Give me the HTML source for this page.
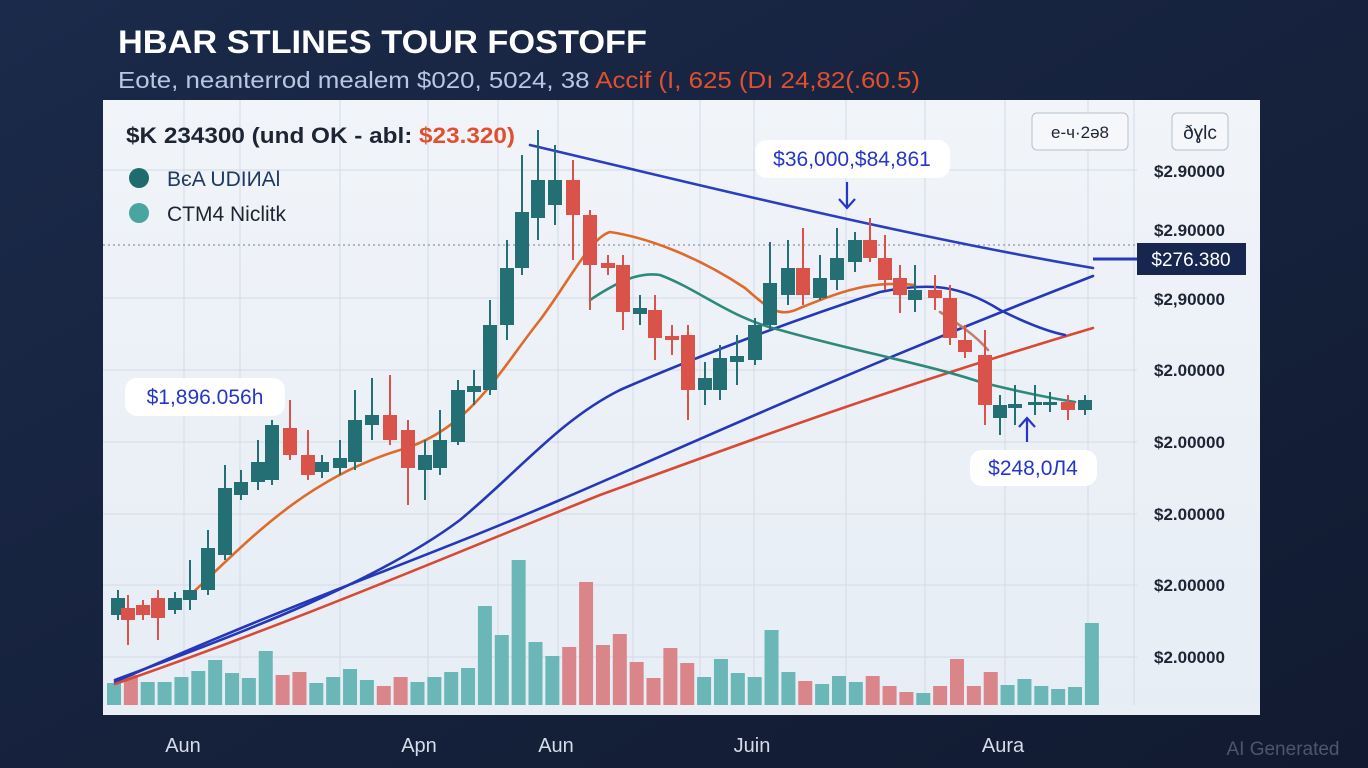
<!DOCTYPE html>
<html><head><meta charset="utf-8"><style>
html,body{margin:0;padding:0;width:1368px;height:768px;overflow:hidden;background:#16223d;font-family:"Liberation Sans",sans-serif}
</style></head><body>
<svg id="s" width="1368" height="768" viewBox="0 0 1368 768" xmlns="http://www.w3.org/2000/svg" style="position:absolute;left:0;top:0">
<defs>
<linearGradient id="bg" x1="0" y1="0" x2="1" y2="1"><stop offset="0" stop-color="#1b2a4a"/><stop offset="1" stop-color="#111a30"/></linearGradient>
<linearGradient id="pn" x1="0" y1="0" x2="0" y2="1"><stop offset="0" stop-color="#f1f4f9"/><stop offset="1" stop-color="#e6edf5"/></linearGradient>
</defs>
<rect width="1368" height="768" fill="url(#bg)"/>
<rect x="103" y="100" width="1157" height="615" fill="url(#pn)"/>
<rect x="103" y="705" width="1157" height="10" fill="#e9eef4"/>
<g id="grid" stroke="#d3dbe6" stroke-width="1"></g>
<line x1="103" y1="245" x2="1137" y2="245" stroke="#8a94a6" stroke-width="1.2" stroke-dasharray="2,3"/>
<g id="vol"></g>
<g id="lines" fill="none" stroke-width="2.6" stroke-linecap="round">
<path d="M530,145 C700,185 900,235 1093,268" stroke="#2a3fc0"/>
<path d="M115,682 C300,600 420,560 560,500 C700,440 850,370 1093,276" stroke="#2438b8"/>
<path d="M115,684 C300,620 450,555 600,495 C750,440 900,385 1093,328" stroke="#d94a35"/>
<path d="M115,680 C250,630 380,580 460,520 C520,470 560,420 620,390 C700,355 800,318 880,292 C930,282 960,285 1000,310 C1030,325 1050,332 1065,335" stroke="#2438b8"/>
<path d="M190,595 C240,550 300,480 400,450 C470,430 500,370 540,320 C570,280 590,238 610,232 C650,238 700,258 745,288 C770,310 780,318 800,308 C840,292 870,280 915,285" stroke="#e06a2a"/>
<path d="M590,300 C620,280 640,272 660,275 C700,290 730,318 780,330 C850,350 930,365 980,382 C1020,392 1050,398 1075,402" stroke="#2d8a7a"/>
<path d="M940,312 C960,325 975,335 988,350" stroke="#c08070"/>
</g>
<g id="candles"></g>
<line x1="1093" y1="259" x2="1137" y2="259" stroke="#2438b8" stroke-width="3"/>
<rect x="1137" y="243" width="109" height="32" fill="#17264e"/>
<text x="1191" y="266" font-size="19" fill="#fff" text-anchor="middle">$276.380</text>
<g font-size="17" fill="#1d2433" text-anchor="start" font-weight="bold">
<text x="1154" y="177">$2.90000</text><text x="1154" y="236">$2.90000</text><text x="1154" y="305">$2,90000</text>
<text x="1154" y="376">$2.00000</text><text x="1154" y="448">$2.00000</text><text x="1154" y="520">$2.00000</text>
<text x="1154" y="591">$2.00000</text><text x="1154" y="663">$2.00000</text>
</g>
<rect x="1032" y="113" width="96" height="37" rx="5" fill="#f5f7fb" stroke="#b8c0cc"/>
<text x="1080" y="138" font-size="17" fill="#1d2433" text-anchor="middle">е-ч·2ә8</text>
<rect x="1172" y="113" width="56" height="37" rx="5" fill="#f5f7fb" stroke="#b8c0cc"/>
<text x="1200" y="139" font-size="19" fill="#1d2433" text-anchor="middle">ðɣlc</text>
<text x="126" y="143" font-size="22" font-weight="bold" fill="#1d2433" textLength="389" lengthAdjust="spacingAndGlyphs">$K 234300 (und OK - abl: <tspan fill="#e0502e">$23.320)</tspan></text>
<circle cx="139" cy="178" r="10" fill="#1f6b6e"/><text x="167" y="186" font-size="21" fill="#1f3a60">BєA UDIИAl</text>
<circle cx="139" cy="213" r="10" fill="#4aa5a0"/><text x="167" y="221" font-size="21" fill="#1d2433">CTM4 Niclitk</text>
<rect x="755" y="140" width="195" height="38" rx="12" fill="#fff"/>
<text x="852" y="166" font-size="21" fill="#2536c8" text-anchor="middle">$36,000,$84,861</text>
<path d="M847,182 V208 M839,199 L847,208 L855,199" stroke="#2536c8" stroke-width="2.2" fill="none"/>
<rect x="125" y="378" width="160" height="38" rx="12" fill="#fff"/>
<text x="205" y="404" font-size="21" fill="#2536c8" text-anchor="middle">$1,896.056h</text>
<rect x="970" y="450" width="127" height="36" rx="12" fill="#fff"/>
<text x="1033" y="475" font-size="21" fill="#2536c8" text-anchor="middle">$248,0Л4</text>
<path d="M1027,442 V418 M1019,427 L1027,418 L1035,427" stroke="#2536c8" stroke-width="2.2" fill="none"/>
<text x="118" y="53" font-size="32" font-weight="bold" fill="#ffffff" textLength="529" lengthAdjust="spacingAndGlyphs">HBAR STLINES TOUR FOSTOFF</text>
<text x="118" y="88" font-size="23" fill="#b9c8e0" textLength="802" lengthAdjust="spacingAndGlyphs">Eote, neanterrod mealem $020, 5024, 38 <tspan fill="#e0502e">Accif (I, 625 (Dı 24,82(.60.5)</tspan></text>
<g font-size="20" fill="#d5dcea" text-anchor="middle">
<text x="183" y="752">Aun</text><text x="419" y="752">Apn</text><text x="556" y="752">Aun</text><text x="752" y="752">Juin</text><text x="1003" y="752">Aura</text>
</g>
<text x="1283" y="755" font-size="19" fill="#4a5672" text-anchor="middle">AI Generated</text>
</svg>
<script>
var NS="http://www.w3.org/2000/svg";
function el(p,t,a){var e=document.createElementNS(NS,t);for(var k in a)e.setAttribute(k,a[k]);document.getElementById(p).appendChild(e);}
[184,240,340,428,498,558,633,700,754,846,925,1005,1088,1134].forEach(function(x){el("grid","line",{x1:x,y1:100,x2:x,y2:705});});
[170,298,370,442,514,585,657].forEach(function(y){el("grid","line",{x1:103,y1:y,x2:1137,y2:y});});
var v=[[683,0],[675,1],[682,0],[682,0],[677,0],[671,0],[660,0],[673,0],[678,0],[651,0],[675,1],[672,1],[683,0],[677,0],[669,0],[680,0],[686,1],[677,1],[682,0],[677,0],[672,0],[668,0],[606,0],[635,0],[560,0],[642,0],[656,0],[647,1],[582,1],[645,1],[634,1],[662,1],[678,1],[648,1],[663,1],[677,0],[659,0],[673,0],[677,0],[630,0],[672,0],[681,1],[684,0],[676,0],[682,0],[676,1],[686,1],[692,1],[693,0],[686,1],[659,1],[686,1],[672,1],[685,0],[679,0],[686,0],[689,0],[687,0],[623,0]];
v.forEach(function(b,i){var x=114+i*16.86;el("vol","rect",{x:x-7,y:b[0],width:14,height:705-b[0],fill:b[1]?"#d9858a":"#6bb7b7"});});
var T="#246f73",R="#d9534a";
var c=[[118,598,615,590,620,T],[128,608,620,595,645,R],[143,605,615,600,620,R],[158,598,618,590,640,R],[175,598,610,592,614,T],[190,590,600,560,610,T],[208,548,590,530,595,T],[225,488,555,465,560,T],[241,482,495,470,500,T],[258,462,482,440,490,T],[272,425,480,420,485,T],[290,428,455,400,460,R],[308,455,475,430,480,R],[322,462,472,455,478,T],[340,458,468,440,475,T],[355,420,462,390,470,T],[372,415,425,378,440,T],[390,415,440,375,445,R],[408,430,468,420,505,R],[425,455,470,440,500,T],[440,440,468,410,475,T],[458,390,442,380,445,T],[474,386,392,370,405,T],[490,325,390,300,395,T],[507,268,325,240,340,T],[522,212,268,155,275,T],[538,180,218,130,240,T],[555,180,205,145,225,T],[573,180,215,160,260,R],[590,215,265,210,310,R],[608,263,268,255,275,R],[623,265,312,255,330,R],[640,308,314,295,325,T],[655,310,338,295,360,R],[672,336,340,325,355,R],[688,335,390,325,420,R],[705,378,390,362,405,T],[720,358,390,345,400,T],[737,356,362,335,385,T],[755,325,360,318,365,T],[770,283,325,242,330,T],[788,268,295,240,305,T],[803,268,295,228,305,R],[820,278,298,255,300,T],[837,258,280,228,290,T],[855,240,262,232,272,T],[870,240,258,218,262,R],[885,258,280,235,290,R],[900,278,295,265,313,R],[915,290,300,265,312,T],[935,290,298,275,310,R],[950,298,338,285,345,R],[965,340,352,325,358,R],[985,355,405,330,425,R],[1000,405,418,395,435,T],[1015,404,408,385,425,T],[1035,402,405,385,415,T],[1050,402,405,392,412,T],[1068,402,410,395,420,R],[1085,400,410,395,415,T]];
c.forEach(function(k){el("candles","line",{x1:k[0],y1:k[3],x2:k[0],y2:k[4],stroke:k[5],"stroke-width":2});el("candles","rect",{x:k[0]-7,y:k[1],width:14,height:Math.max(3,k[2]-k[1]),fill:k[5]});});
</script>
</body></html>
